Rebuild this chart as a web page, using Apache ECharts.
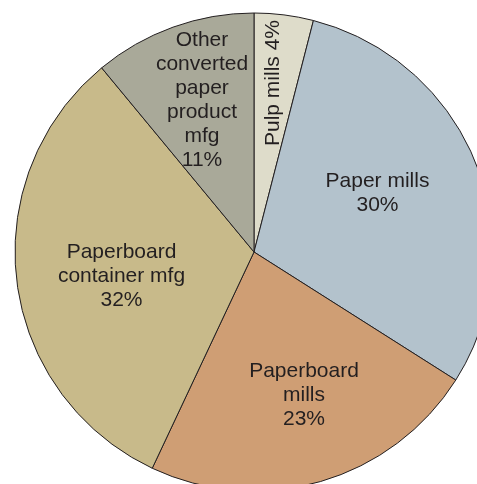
<!DOCTYPE html>
<html>
<head>
<meta charset="utf-8">
<script src="https://cdn.jsdelivr.net/npm/echarts@6/dist/echarts.min.js"></script>
<style>
html,body{margin:0;padding:0;background:#fff;}
#chart{width:477px;height:484px;}
</style>
</head>
<body>
<div id="chart"></div>
<script>
// Data
var categories = ['Pulp mills', 'Paper mills', 'Paperboard mills', 'Paperboard container mfg', 'Other converted paper product mfg'];
var labelNames = ['Pulp mills', 'Paper mills', 'Paperboard\nmills', 'Paperboard\ncontainer mfg', 'Other\nconverted\npaper\nproduct\nmfg'];
var values = [4, 30, 23, 32, 11];

// Styles
var colors = ['#dedcca', '#b3c2cc', '#cf9e74', '#c8ba8a', '#a9a999'];
var labelPos = [[273.5, 83, 90], [377.5, 193.5, 0], [304, 395, 0], [121.5, 276, 0], [202, 100, 0]];
var separators = [' ', '\n', '\n', '\n', '\n'];

var chart = echarts.init(document.getElementById('chart'), null, {renderer: 'canvas'});
chart.setOption({
  animation: false,
  backgroundColor: '#ffffff',
  series: [{
    type: 'pie',
    center: [254, 252],
    radius: [0, 239],
    startAngle: 90,
    clockwise: true,
    silent: true,
    avoidLabelOverlap: false,
    itemStyle: {borderColor: '#231f20', borderWidth: 1},
    label: {
      show: true,
      position: 'inside',
      color: '#231f20',
      fontFamily: 'Liberation Sans, Arial, sans-serif',
      fontSize: 21,
      lineHeight: 24,
      align: 'center',
      formatter: function (p) {
        return labelNames[p.dataIndex] + separators[p.dataIndex] + p.value + '%';
      }
    },
    labelLine: {show: false},
    labelLayout: function (p) {
      var lp = labelPos[p.dataIndex];
      return {x: lp[0], y: lp[1], rotate: lp[2], align: 'center', verticalAlign: 'middle'};
    },
    data: categories.map(function (c, i) {
      return {name: c, value: values[i], itemStyle: {color: colors[i]}};
    })
  }]
});
</script>
</body>
</html>
